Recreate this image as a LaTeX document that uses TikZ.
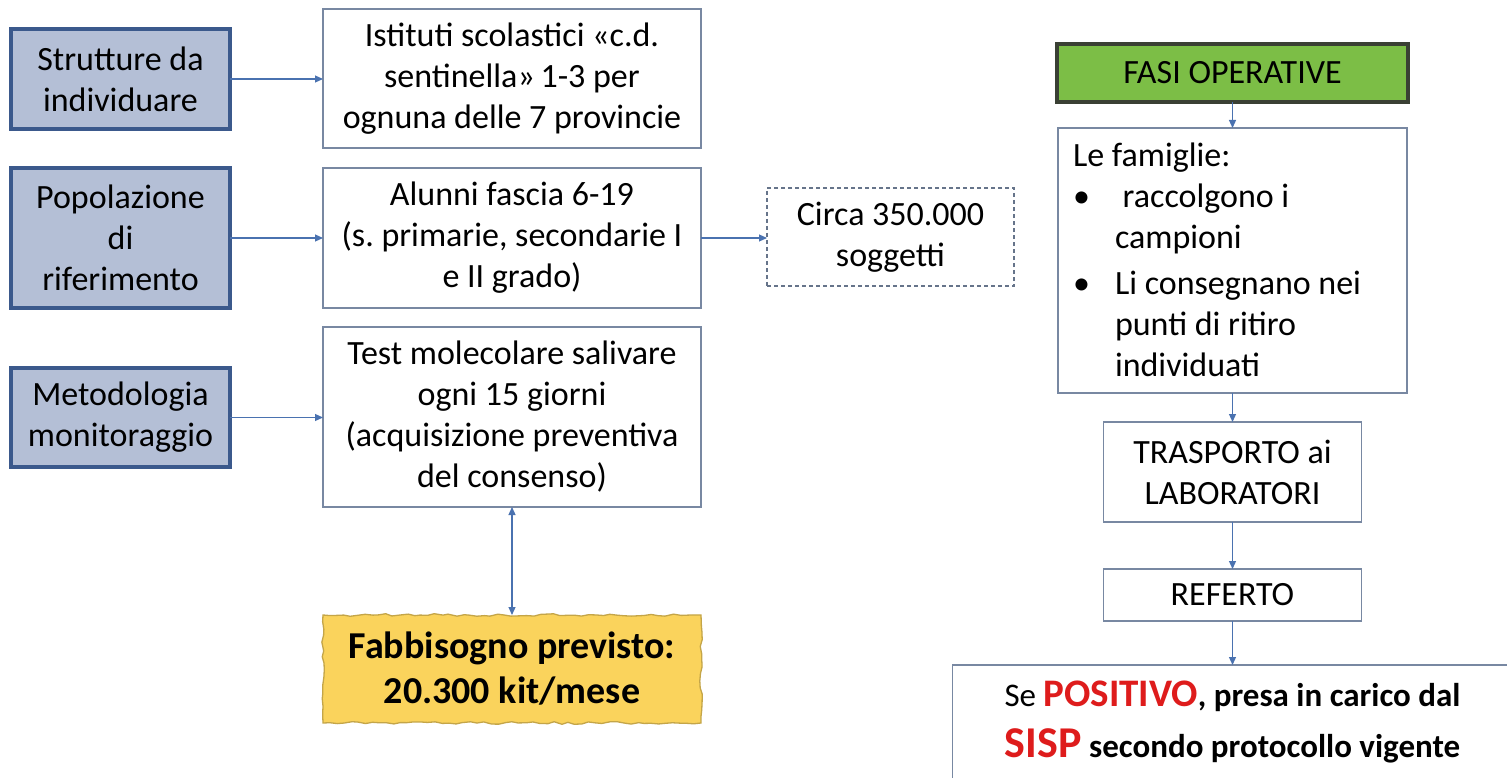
\documentclass[tikz,border=0pt]{standalone}
\usepackage{fontspec}
\setmainfont{Carlito}
\usetikzlibrary{arrows.meta,decorations.pathmorphing}
\definecolor{leftfill}{RGB}{180,191,214}
\definecolor{leftdraw}{RGB}{59,89,140}
\definecolor{boxline}{RGB}{120,136,162}
\definecolor{arrblue}{RGB}{74,114,176}
\definecolor{fasifill}{RGB}{124,190,70}
\definecolor{fasidraw}{RGB}{58,64,52}
\definecolor{fabfill}{RGB}{250,211,92}
\definecolor{fabdraw}{RGB}{196,165,72}
\definecolor{posred}{RGB}{222,28,28}
\frenchspacing
\begin{document}
\begin{tikzpicture}[x=1pt,y=-1pt,
  every node/.style={inner sep=0pt, outer sep=0pt},
  txt/.style={font=\fontsize{34}{41}\selectfont, align=center},
  leftbox/.style={txt, rectangle, fill=leftfill, draw=leftdraw, line width=3.5pt, minimum width=219},
  wbox/.style={txt, rectangle, fill=white, draw=boxline, line width=1.3pt, minimum width=378},
  circabox/.style={txt, rectangle, fill=white, draw=boxline!85!black, line width=1.2pt, dash pattern=on 4pt off 3pt, minimum width=247, minimum height=98},
  fasibox/.style={txt, rectangle, fill=fasifill, draw=fasidraw, line width=3.5pt, minimum width=351, minimum height=58},
  fabbox/.style={rectangle, fill=fabfill, draw=fabdraw, line width=1.3pt, minimum width=378, minimum height=108,
     font=\fontsize{38}{45}\selectfont\bfseries, align=center,
     decorate, decoration={random steps, segment length=7pt, amplitude=1.3pt}},
  arr/.style={draw=arrblue, line width=1.2pt, -{Triangle[length=8pt,width=7pt]}},
  arrboth/.style={draw=arrblue, line width=1.2pt, {Triangle[length=8pt,width=7pt]}-{Triangle[length=8pt,width=7pt]}}
]
\pgfmathsetseed{7}
\fill[white] (0,0) rectangle (1507,778);
\useasboundingbox (0,0) rectangle (1507,778);
\clip (0,0) rectangle (1507,778);

% left column
\node[leftbox, minimum height=100] (strut) at (120.5,79) {Strutture da\\individuare};
\node[leftbox, minimum height=140] (pop) at (120.5,238) {Popolazione\\di\\riferimento};
\node[leftbox, minimum height=99] (met) at (120.5,417.5) {Metodologia\\monitoraggio};

% middle column
\node[wbox, minimum height=139] (ist) at (512,78.5) {Istituti scolastici «c.d.\\sentinella»\,1-3 per\\ognuna delle 7 provincie};
\node[wbox, minimum height=140] (alu) at (512,238) {Alunni fascia 6-19\\(s. primarie, secondarie I\\e II grado)};
\node[wbox, minimum height=180] (test) at (512,417) {Test molecolare salivare\\ogni 15 giorni\\(acquisizione preventiva\\del consenso)};
\node[fabbox] (fab) at (512,669) {Fabbisogno previsto:\\20.300 kit/mese};

\node[circabox] (circa) at (890.5,237) {Circa 350.000\\soggetti};

% right column
\node[fasibox] (fasi) at (1232.5,73) {FASI OPERATIVE};
\node[wbox, minimum width=349, minimum height=265] (fam) at (1232.5,260.5) {};
\node[txt, align=left, anchor=north west] (famtext) at (1073,143)
  {Le famiglie:\\
   \makebox[42pt][l]{•}\ raccolgono i\\
   \hspace*{42pt}campioni\\[5pt]
   \makebox[42pt][l]{•}Li consegnano nei\\
   \hspace*{42pt}punti di ritiro\\
   \hspace*{42pt}individuati};
\node[wbox, minimum width=258, minimum height=100] (tra) at (1232.5,472) {TRASPORTO ai\\LABORATORI};
\node[wbox, minimum width=258, minimum height=52] (ref) at (1232.5,595) {REFERTO};
\node[wbox, minimum width=560, minimum height=114, font=\fontsize{33}{51}\selectfont] (fin) at (1232.5,722)
  {Se {\bfseries\color{posred}\fontsize{39}{51}\selectfont POSITIVO}\textbf{, presa in carico dal}\\
   {\bfseries\color{posred}\fontsize{44}{51}\selectfont SISP} \textbf{secondo protocollo vigente}};

% connectors
\draw[arr] (strut.east) -- (ist.west |- strut.east);
\draw[arr] (pop.east) -- (alu.west |- pop.east);
\draw[arr] (met.east) -- (test.west |- met.east);
\draw[arr] (alu.east) -- (circa.west |- alu.east);
\draw[arrboth] (test.south) -- (fab.north);
\draw[arr] (fasi.south) -- (fam.north);
\draw[arr] (fam.south) -- (tra.north);
\draw[arr] (tra.south) -- (ref.north);
\draw[arr] (ref.south) -- (fin.north);
\end{tikzpicture}
\end{document}
